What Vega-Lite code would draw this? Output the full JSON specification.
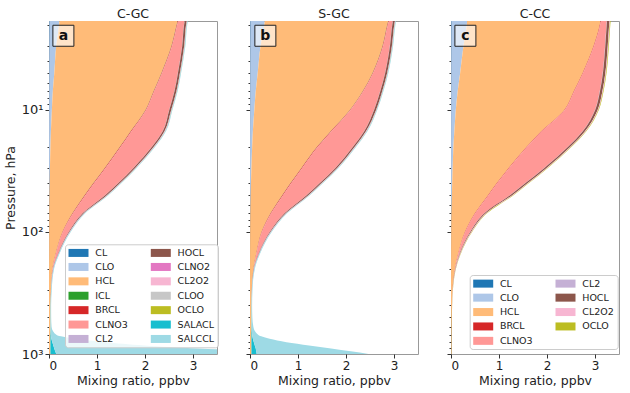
{
"$schema": "https://vega.github.io/schema/vega-lite/v6.json",
"padding": {"left": 3, "top": 7, "right": 5, "bottom": 5},
"config": {
  "font": "DejaVu Sans",
  "view": {"stroke": "#999999", "strokeWidth": 1},
  "axis": {"grid": false, "domain": false, "tickColor": "#333333", "labelColor": "#222222", "titleColor": "#222222", "labelFontSize": 12, "titleFontSize": 12.5, "titleFontWeight": "normal", "labelFont": "DejaVu Sans", "titleFont": "DejaVu Sans"},
  "title": {"fontSize": 12.5, "fontWeight": "normal", "font": "DejaVu Sans", "offset": 1, "color": "#222222"},
  "legend": {"title": null, "columns": 2, "symbolType": "M-2.5,-1H2.5V1H-2.5Z", "symbolSize": 64, "symbolOffset": 5.25, "symbolStrokeWidth": 0, "labelFontSize": 9.5, "labelFont": "DejaVu Sans", "labelColor": "#222222", "labelOffset": 12, "rowPadding": 3.4, "columnPadding": 22.3, "padding": 3.5, "fillColor": "rgba(255,255,255,0.8)", "strokeColor": "#cccccc", "cornerRadius": 3}
},
"datasets": {
  "a": [
    {"p":1.8,"CL":0.01,"CLO":0.21,"HCL":2.47,"ICL":0.003,"BRCL":0.01,"CLNO3":0.13,"CL2":0.003,"HOCL":0.04,"CLNO2":0.003,"CL2O2":0.006,"CLOO":0.001,"OCLO":0.003,"SALACL":0.002,"SALCCL":0.01},
    {"p":2,"CL":0.01,"CLO":0.2,"HCL":2.45,"ICL":0.003,"BRCL":0.01,"CLNO3":0.14,"CL2":0.003,"HOCL":0.04,"CLNO2":0.003,"CL2O2":0.006,"CLOO":0.001,"OCLO":0.003,"SALACL":0.002,"SALCCL":0.01},
    {"p":3,"CL":0.008,"CLO":0.142,"HCL":2.4,"ICL":0.003,"BRCL":0.01,"CLNO3":0.21,"CL2":0.003,"HOCL":0.04,"CLNO2":0.003,"CL2O2":0.006,"CLOO":0.001,"OCLO":0.003,"SALACL":0.002,"SALCCL":0.01},
    {"p":5,"CL":0.006,"CLO":0.104,"HCL":2.23,"ICL":0.003,"BRCL":0.01,"CLNO3":0.33,"CL2":0.003,"HOCL":0.04,"CLNO2":0.003,"CL2O2":0.006,"CLOO":0.001,"OCLO":0.003,"SALACL":0.002,"SALCCL":0.01},
    {"p":7,"CL":0.005,"CLO":0.075,"HCL":2.1,"ICL":0.003,"BRCL":0.01,"CLNO3":0.42,"CL2":0.003,"HOCL":0.04,"CLNO2":0.003,"CL2O2":0.006,"CLOO":0.001,"OCLO":0.003,"SALACL":0.002,"SALCCL":0.01},
    {"p":10,"CL":0.004,"CLO":0.056,"HCL":1.95,"ICL":0.003,"BRCL":0.01,"CLNO3":0.48,"CL2":0.003,"HOCL":0.04,"CLNO2":0.003,"CL2O2":0.006,"CLOO":0.001,"OCLO":0.003,"SALACL":0.002,"SALCCL":0.01},
    {"p":15,"CL":0.003,"CLO":0.037,"HCL":1.66,"ICL":0.003,"BRCL":0.015,"CLNO3":0.65,"CL2":0.003,"HOCL":0.035,"CLNO2":0.003,"CL2O2":0.01,"CLOO":0.001,"OCLO":0.003,"SALACL":0.002,"SALCCL":0.012},
    {"p":20,"CL":0.002,"CLO":0.028,"HCL":1.45,"ICL":0.003,"BRCL":0.015,"CLNO3":0.65,"CL2":0.003,"HOCL":0.035,"CLNO2":0.003,"CL2O2":0.01,"CLOO":0.001,"OCLO":0.003,"SALACL":0.002,"SALCCL":0.012},
    {"p":30,"CL":0.002,"CLO":0.018,"HCL":1.14,"ICL":0.003,"BRCL":0.015,"CLNO3":0.58,"CL2":0.003,"HOCL":0.035,"CLNO2":0.003,"CL2O2":0.01,"CLOO":0.001,"OCLO":0.003,"SALACL":0.002,"SALCCL":0.012},
    {"p":40,"CL":0.001,"CLO":0.014,"HCL":0.905,"ICL":0.003,"BRCL":0.015,"CLNO3":0.5,"CL2":0.003,"HOCL":0.035,"CLNO2":0.003,"CL2O2":0.01,"CLOO":0.001,"OCLO":0.003,"SALACL":0.002,"SALCCL":0.012},
    {"p":50,"CL":0.001,"CLO":0.009,"HCL":0.73,"ICL":0.003,"BRCL":0.015,"CLNO3":0.41,"CL2":0.003,"HOCL":0.035,"CLNO2":0.003,"CL2O2":0.01,"CLOO":0.001,"OCLO":0.003,"SALACL":0.002,"SALCCL":0.012},
    {"p":70,"CL":0.001,"CLO":0.005,"HCL":0.484,"ICL":0.002,"BRCL":0.012,"CLNO3":0.2,"CL2":0.002,"HOCL":0.025,"CLNO2":0.002,"CL2O2":0.01,"CLOO":0.001,"OCLO":0.002,"SALACL":0.002,"SALCCL":0.012},
    {"p":100,"CL":0.001,"CLO":0.003,"HCL":0.276,"ICL":0.001,"BRCL":0.008,"CLNO3":0.12,"CL2":0.002,"HOCL":0.015,"CLNO2":0.002,"CL2O2":0.008,"CLOO":0.001,"OCLO":0.001,"SALACL":0.002,"SALCCL":0.012},
    {"p":150,"CL":0.001,"CLO":0.002,"HCL":0.137,"ICL":0.001,"BRCL":0.005,"CLNO3":0.045,"CL2":0.001,"HOCL":0.008,"CLNO2":0.001,"CL2O2":0.005,"CLOO":0,"OCLO":0.001,"SALACL":0.002,"SALCCL":0.012},
    {"p":200,"CL":0,"CLO":0.001,"HCL":0.069,"ICL":0.001,"BRCL":0.003,"CLNO3":0.01,"CL2":0.001,"HOCL":0.004,"CLNO2":0.001,"CL2O2":0.002,"CLOO":0,"OCLO":0,"SALACL":0.002,"SALCCL":0.012},
    {"p":300,"CL":0,"CLO":0,"HCL":0.04,"ICL":0,"BRCL":0.001,"CLNO3":0.002,"CL2":0,"HOCL":0.001,"CLNO2":0,"CL2O2":0,"CLOO":0,"OCLO":0,"SALACL":0.002,"SALCCL":0.01},
    {"p":400,"CL":0,"CLO":0,"HCL":0.03,"ICL":0,"BRCL":0,"CLNO3":0.001,"CL2":0,"HOCL":0,"CLNO2":0,"CL2O2":0,"CLOO":0,"OCLO":0,"SALACL":0.003,"SALCCL":0.01},
    {"p":500,"CL":0,"CLO":0,"HCL":0.03,"ICL":0,"BRCL":0,"CLNO3":0,"CL2":0,"HOCL":0,"CLNO2":0,"CL2O2":0,"CLOO":0,"OCLO":0,"SALACL":0.003,"SALCCL":0.012},
    {"p":600,"CL":0,"CLO":0,"HCL":0.03,"ICL":0,"BRCL":0,"CLNO3":0,"CL2":0,"HOCL":0,"CLNO2":0,"CL2O2":0,"CLOO":0,"OCLO":0,"SALACL":0.004,"SALCCL":0.02},
    {"p":700,"CL":0,"CLO":0,"HCL":0.03,"ICL":0,"BRCL":0,"CLNO3":0,"CL2":0,"HOCL":0,"CLNO2":0,"CL2O2":0,"CLOO":0,"OCLO":0,"SALACL":0.01,"SALCCL":0.12},
    {"p":750,"CL":0,"CLO":0,"HCL":0.03,"ICL":0,"BRCL":0,"CLNO3":0,"CL2":0,"HOCL":0,"CLNO2":0,"CL2O2":0,"CLOO":0,"OCLO":0,"SALACL":0.02,"SALCCL":0.5},
    {"p":800,"CL":0,"CLO":0,"HCL":0.03,"ICL":0,"BRCL":0,"CLNO3":0,"CL2":0,"HOCL":0,"CLNO2":0,"CL2O2":0,"CLOO":0,"OCLO":0,"SALACL":0.04,"SALCCL":1.1},
    {"p":850,"CL":0,"CLO":0,"HCL":0.03,"ICL":0,"BRCL":0,"CLNO3":0,"CL2":0,"HOCL":0,"CLNO2":0,"CL2O2":0,"CLOO":0,"OCLO":0,"SALACL":0.06,"SALCCL":1.9},
    {"p":900,"CL":0,"CLO":0,"HCL":0.03,"ICL":0,"BRCL":0,"CLNO3":0,"CL2":0,"HOCL":0,"CLNO2":0,"CL2O2":0,"CLOO":0,"OCLO":0,"SALACL":0.08,"SALCCL":3.0},
    {"p":950,"CL":0,"CLO":0,"HCL":0.03,"ICL":0,"BRCL":0,"CLNO3":0,"CL2":0,"HOCL":0,"CLNO2":0,"CL2O2":0,"CLOO":0,"OCLO":0,"SALACL":0.1,"SALCCL":4.2},
    {"p":1000,"CL":0,"CLO":0,"HCL":0.03,"ICL":0,"BRCL":0,"CLNO3":0,"CL2":0,"HOCL":0,"CLNO2":0,"CL2O2":0,"CLOO":0,"OCLO":0,"SALACL":0.12,"SALCCL":5.2}
  ],
  "b": [
    {"p":1.8,"CL":0.01,"CLO":0.3,"HCL":2.58,"ICL":0.003,"BRCL":0.01,"CLNO3":0.08,"CL2":0.003,"HOCL":0.04,"CLNO2":0.003,"CL2O2":0.006,"CLOO":0.001,"OCLO":0.003,"SALACL":0.002,"SALCCL":0.01},
    {"p":2,"CL":0.01,"CLO":0.29,"HCL":2.56,"ICL":0.003,"BRCL":0.01,"CLNO3":0.09,"CL2":0.003,"HOCL":0.04,"CLNO2":0.003,"CL2O2":0.006,"CLOO":0.001,"OCLO":0.003,"SALACL":0.002,"SALCCL":0.01},
    {"p":3,"CL":0.008,"CLO":0.212,"HCL":2.54,"ICL":0.003,"BRCL":0.01,"CLNO3":0.14,"CL2":0.003,"HOCL":0.04,"CLNO2":0.003,"CL2O2":0.006,"CLOO":0.001,"OCLO":0.003,"SALACL":0.002,"SALCCL":0.01},
    {"p":5,"CL":0.006,"CLO":0.154,"HCL":2.39,"ICL":0.003,"BRCL":0.01,"CLNO3":0.25,"CL2":0.003,"HOCL":0.04,"CLNO2":0.003,"CL2O2":0.006,"CLOO":0.001,"OCLO":0.003,"SALACL":0.002,"SALCCL":0.01},
    {"p":7,"CL":0.005,"CLO":0.115,"HCL":2.23,"ICL":0.003,"BRCL":0.01,"CLNO3":0.35,"CL2":0.003,"HOCL":0.04,"CLNO2":0.003,"CL2O2":0.006,"CLOO":0.001,"OCLO":0.003,"SALACL":0.002,"SALCCL":0.01},
    {"p":10,"CL":0.004,"CLO":0.086,"HCL":1.99,"ICL":0.003,"BRCL":0.01,"CLNO3":0.49,"CL2":0.003,"HOCL":0.04,"CLNO2":0.003,"CL2O2":0.006,"CLOO":0.001,"OCLO":0.003,"SALACL":0.002,"SALCCL":0.01},
    {"p":15,"CL":0.003,"CLO":0.057,"HCL":1.62,"ICL":0.003,"BRCL":0.015,"CLNO3":0.68,"CL2":0.003,"HOCL":0.035,"CLNO2":0.003,"CL2O2":0.01,"CLOO":0.001,"OCLO":0.003,"SALACL":0.002,"SALCCL":0.012},
    {"p":20,"CL":0.002,"CLO":0.043,"HCL":1.355,"ICL":0.003,"BRCL":0.015,"CLNO3":0.73,"CL2":0.003,"HOCL":0.035,"CLNO2":0.003,"CL2O2":0.01,"CLOO":0.001,"OCLO":0.003,"SALACL":0.002,"SALCCL":0.012},
    {"p":30,"CL":0.002,"CLO":0.028,"HCL":1.04,"ICL":0.003,"BRCL":0.015,"CLNO3":0.69,"CL2":0.003,"HOCL":0.035,"CLNO2":0.003,"CL2O2":0.01,"CLOO":0.001,"OCLO":0.003,"SALACL":0.002,"SALCCL":0.012},
    {"p":40,"CL":0.001,"CLO":0.019,"HCL":0.82,"ICL":0.003,"BRCL":0.015,"CLNO3":0.59,"CL2":0.003,"HOCL":0.035,"CLNO2":0.003,"CL2O2":0.01,"CLOO":0.001,"OCLO":0.003,"SALACL":0.002,"SALCCL":0.012},
    {"p":50,"CL":0.001,"CLO":0.014,"HCL":0.655,"ICL":0.003,"BRCL":0.015,"CLNO3":0.49,"CL2":0.003,"HOCL":0.035,"CLNO2":0.003,"CL2O2":0.01,"CLOO":0.001,"OCLO":0.003,"SALACL":0.002,"SALCCL":0.012},
    {"p":70,"CL":0.001,"CLO":0.007,"HCL":0.422,"ICL":0.002,"BRCL":0.012,"CLNO3":0.28,"CL2":0.002,"HOCL":0.025,"CLNO2":0.002,"CL2O2":0.01,"CLOO":0.001,"OCLO":0.002,"SALACL":0.002,"SALCCL":0.012},
    {"p":100,"CL":0.001,"CLO":0.003,"HCL":0.236,"ICL":0.001,"BRCL":0.008,"CLNO3":0.16,"CL2":0.002,"HOCL":0.015,"CLNO2":0.002,"CL2O2":0.008,"CLOO":0.001,"OCLO":0.001,"SALACL":0.002,"SALCCL":0.012},
    {"p":150,"CL":0.001,"CLO":0.001,"HCL":0.128,"ICL":0.001,"BRCL":0.005,"CLNO3":0.045,"CL2":0.001,"HOCL":0.008,"CLNO2":0.001,"CL2O2":0.005,"CLOO":0,"OCLO":0.001,"SALACL":0.002,"SALCCL":0.012},
    {"p":200,"CL":0,"CLO":0.001,"HCL":0.069,"ICL":0.001,"BRCL":0.003,"CLNO3":0.005,"CL2":0.001,"HOCL":0.004,"CLNO2":0.001,"CL2O2":0.002,"CLOO":0,"OCLO":0,"SALACL":0.002,"SALCCL":0.012},
    {"p":300,"CL":0,"CLO":0,"HCL":0.035,"ICL":0,"BRCL":0.001,"CLNO3":0.002,"CL2":0,"HOCL":0.001,"CLNO2":0,"CL2O2":0,"CLOO":0,"OCLO":0,"SALACL":0.002,"SALCCL":0.01},
    {"p":400,"CL":0,"CLO":0,"HCL":0.03,"ICL":0,"BRCL":0,"CLNO3":0.001,"CL2":0,"HOCL":0,"CLNO2":0,"CL2O2":0,"CLOO":0,"OCLO":0,"SALACL":0.003,"SALCCL":0.01},
    {"p":500,"CL":0,"CLO":0,"HCL":0.03,"ICL":0,"BRCL":0,"CLNO3":0,"CL2":0,"HOCL":0,"CLNO2":0,"CL2O2":0,"CLOO":0,"OCLO":0,"SALACL":0.004,"SALCCL":0.015},
    {"p":600,"CL":0,"CLO":0,"HCL":0.03,"ICL":0,"BRCL":0,"CLNO3":0,"CL2":0,"HOCL":0,"CLNO2":0,"CL2O2":0,"CLOO":0,"OCLO":0,"SALACL":0.006,"SALCCL":0.035},
    {"p":700,"CL":0,"CLO":0,"HCL":0.03,"ICL":0,"BRCL":0,"CLNO3":0,"CL2":0,"HOCL":0,"CLNO2":0,"CL2O2":0,"CLOO":0,"OCLO":0,"SALACL":0.015,"SALCCL":0.13},
    {"p":750,"CL":0,"CLO":0,"HCL":0.03,"ICL":0,"BRCL":0,"CLNO3":0,"CL2":0,"HOCL":0,"CLNO2":0,"CL2O2":0,"CLOO":0,"OCLO":0,"SALACL":0.03,"SALCCL":0.35},
    {"p":800,"CL":0,"CLO":0,"HCL":0.03,"ICL":0,"BRCL":0,"CLNO3":0,"CL2":0,"HOCL":0,"CLNO2":0,"CL2O2":0,"CLOO":0,"OCLO":0,"SALACL":0.05,"SALCCL":0.68},
    {"p":850,"CL":0,"CLO":0,"HCL":0.03,"ICL":0,"BRCL":0,"CLNO3":0,"CL2":0,"HOCL":0,"CLNO2":0,"CL2O2":0,"CLOO":0,"OCLO":0,"SALACL":0.07,"SALCCL":1.13},
    {"p":900,"CL":0,"CLO":0,"HCL":0.03,"ICL":0,"BRCL":0,"CLNO3":0,"CL2":0,"HOCL":0,"CLNO2":0,"CL2O2":0,"CLOO":0,"OCLO":0,"SALACL":0.09,"SALCCL":1.57},
    {"p":950,"CL":0,"CLO":0,"HCL":0.03,"ICL":0,"BRCL":0,"CLNO3":0,"CL2":0,"HOCL":0,"CLNO2":0,"CL2O2":0,"CLOO":0,"OCLO":0,"SALACL":0.1,"SALCCL":1.97},
    {"p":1000,"CL":0,"CLO":0,"HCL":0.03,"ICL":0,"BRCL":0,"CLNO3":0,"CL2":0,"HOCL":0,"CLNO2":0,"CL2O2":0,"CLOO":0,"OCLO":0,"SALACL":0.11,"SALCCL":2.33}
  ],
  "c": [
    {"p":1.8,"CL":0.01,"CLO":0.33,"HCL":2.78,"BRCL":0.01,"CLNO3":0.12,"CL2":0.005,"HOCL":0.05,"CL2O2":0.012,"OCLO":0.012},
    {"p":2,"CL":0.01,"CLO":0.32,"HCL":2.77,"BRCL":0.01,"CLNO3":0.13,"CL2":0.005,"HOCL":0.05,"CL2O2":0.012,"OCLO":0.012},
    {"p":3,"CL":0.008,"CLO":0.252,"HCL":2.71,"BRCL":0.01,"CLNO3":0.23,"CL2":0.005,"HOCL":0.05,"CL2O2":0.012,"OCLO":0.012},
    {"p":5,"CL":0.006,"CLO":0.184,"HCL":2.55,"BRCL":0.01,"CLNO3":0.41,"CL2":0.005,"HOCL":0.05,"CL2O2":0.012,"OCLO":0.012},
    {"p":7,"CL":0.005,"CLO":0.135,"HCL":2.42,"BRCL":0.01,"CLNO3":0.53,"CL2":0.005,"HOCL":0.05,"CL2O2":0.012,"OCLO":0.012},
    {"p":10,"CL":0.004,"CLO":0.096,"HCL":2.26,"BRCL":0.01,"CLNO3":0.63,"CL2":0.005,"HOCL":0.05,"CL2O2":0.012,"OCLO":0.012},
    {"p":15,"CL":0.003,"CLO":0.067,"HCL":1.81,"BRCL":0.012,"CLNO3":0.85,"CL2":0.005,"HOCL":0.045,"CL2O2":0.015,"OCLO":0.012},
    {"p":20,"CL":0.002,"CLO":0.048,"HCL":1.53,"BRCL":0.012,"CLNO3":0.85,"CL2":0.005,"HOCL":0.045,"CL2O2":0.015,"OCLO":0.012},
    {"p":30,"CL":0.002,"CLO":0.033,"HCL":1.165,"BRCL":0.012,"CLNO3":0.73,"CL2":0.005,"HOCL":0.045,"CL2O2":0.015,"OCLO":0.012},
    {"p":40,"CL":0.001,"CLO":0.024,"HCL":0.925,"BRCL":0.012,"CLNO3":0.58,"CL2":0.005,"HOCL":0.045,"CL2O2":0.015,"OCLO":0.012},
    {"p":50,"CL":0.001,"CLO":0.019,"HCL":0.75,"BRCL":0.012,"CLNO3":0.445,"CL2":0.005,"HOCL":0.045,"CL2O2":0.015,"OCLO":0.012},
    {"p":70,"CL":0.001,"CLO":0.009,"HCL":0.49,"BRCL":0.01,"CLNO3":0.19,"CL2":0.004,"HOCL":0.03,"CL2O2":0.014,"OCLO":0.01},
    {"p":100,"CL":0.001,"CLO":0.004,"HCL":0.285,"BRCL":0.008,"CLNO3":0.1,"CL2":0.003,"HOCL":0.018,"CL2O2":0.012,"OCLO":0.008},
    {"p":150,"CL":0.001,"CLO":0.001,"HCL":0.148,"BRCL":0.005,"CLNO3":0.025,"CL2":0.002,"HOCL":0.01,"CL2O2":0.008,"OCLO":0.006},
    {"p":200,"CL":0,"CLO":0.001,"HCL":0.079,"BRCL":0.003,"CLNO3":0.005,"CL2":0.001,"HOCL":0.005,"CL2O2":0.004,"OCLO":0.004},
    {"p":300,"CL":0,"CLO":0,"HCL":0.03,"BRCL":0.001,"CLNO3":0.001,"CL2":0,"HOCL":0.002,"CL2O2":0.002,"OCLO":0.003},
    {"p":400,"CL":0,"CLO":0,"HCL":0.02,"BRCL":0,"CLNO3":0,"CL2":0,"HOCL":0.001,"CL2O2":0.001,"OCLO":0.002},
    {"p":500,"CL":0,"CLO":0,"HCL":0.015,"BRCL":0,"CLNO3":0,"CL2":0,"HOCL":0,"CL2O2":0,"OCLO":0.002},
    {"p":600,"CL":0,"CLO":0,"HCL":0.012,"BRCL":0,"CLNO3":0,"CL2":0,"HOCL":0,"CL2O2":0,"OCLO":0.002},
    {"p":700,"CL":0,"CLO":0,"HCL":0.01,"BRCL":0,"CLNO3":0,"CL2":0,"HOCL":0,"CL2O2":0,"OCLO":0.002},
    {"p":800,"CL":0,"CLO":0,"HCL":0.01,"BRCL":0,"CLNO3":0,"CL2":0,"HOCL":0,"CL2O2":0,"OCLO":0.002},
    {"p":900,"CL":0,"CLO":0,"HCL":0.01,"BRCL":0,"CLNO3":0,"CL2":0,"HOCL":0,"CL2O2":0,"OCLO":0.002},
    {"p":1000,"CL":0,"CLO":0,"HCL":0.01,"BRCL":0,"CLNO3":0,"CL2":0,"HOCL":0,"CL2O2":0,"OCLO":0.002}
  ],
  "labels": [{"panel":"a"},{"panel":"b"},{"panel":"c"}]
},
"spacing": 33,
"bounds": "flush",
"resolve": {"scale": {"color": "independent"}, "legend": {"color": "independent"}},
"hconcat": [
  {
    "width": 168, "height": 333,
    "title": "C-GC",
    "layer": [
      {
        "data": {"name": "a"},
        "transform": [
          {"fold": ["CL","CLO","HCL","ICL","BRCL","CLNO3","CL2","HOCL","CLNO2","CL2O2","CLOO","OCLO","SALACL","SALCCL"], "as": ["species","value"]},
          {"calculate": "indexof(['CL','CLO','HCL','ICL','BRCL','CLNO3','CL2','HOCL','CLNO2','CL2O2','CLOO','OCLO','SALACL','SALCCL'], datum.species)", "as": "ord"}
        ],
        "mark": {"type": "area", "orient": "horizontal", "interpolate": "monotone", "clip": true},
        "encoding": {
          "y": {"field": "p", "type": "quantitative", "scale": {"type": "log", "domain": [1.87, 1000], "reverse": true, "nice": false},
                "axis": {"title": "Pressure, hPa", "titlePadding": 4, "labelFontSize": {"condition": {"test": "datum.value == 10 || datum.value == 100 || datum.value == 1000", "value": 13}, "value": 1}, "values": [2,3,4,5,6,7,8,9,10,20,30,40,50,60,70,80,90,100,200,300,400,500,600,700,800,900,1000], "labelExpr": "datum.value == 10 ? '10¹' : datum.value == 100 ? '10²' : datum.value == 1000 ? '10³' : ''", "labelOverlap": false, "tickSize": {"condition": {"test": "datum.value == 10 || datum.value == 100 || datum.value == 1000", "value": 4}, "value": 2}, "labelPadding": 2}},
          "x": {"field": "value", "type": "quantitative", "stack": "zero", "scale": {"domain": [0, 3.5], "nice": false, "zero": true},
                "axis": {"title": "Mixing ratio, ppbv", "values": [0,1,2,3], "format": "d", "tickSize": 4, "labelPadding": 2, "titlePadding": 3}},
          "color": {"field": "species", "type": "nominal",
                    "scale": {"domain": ["CL","CLO","HCL","ICL","BRCL","CLNO3","CL2","HOCL","CLNO2","CL2O2","CLOO","OCLO","SALACL","SALCCL"],
                              "range": ["#1f77b4","#aec7e8","#ffbb78","#2ca02c","#d62728","#ff9896","#c5b0d5","#8c564b","#e377c2","#f7b6d2","#c7c7c7","#bcbd22","#17becf","#9edae5"]},
                    "legend": {"orient": "none", "legendX": 16, "legendY": 223.3}},
          "order": {"field": "ord", "type": "quantitative"}
        }
      },
      {
        "data": {"name": "labels"},
        "transform": [{"filter": "datum.panel == 'a'"}],
        "mark": {"type": "point", "shape": "square", "size": 441, "filled": true, "fill": "white", "fillOpacity": 0.6, "stroke": "#222222", "strokeWidth": 1, "strokeOpacity": 1},
        "encoding": {"x": {"datum": 0.3, "type": "quantitative", "scale": {"domain": [0, 3.5], "nice": false, "zero": true}}, "y": {"datum": 2.47, "type": "quantitative", "scale": {"type": "log", "domain": [1.87, 1000], "reverse": true, "nice": false}}}
      },
      {
        "data": {"name": "labels"},
        "transform": [{"filter": "datum.panel == 'a'"}],
        "mark": {"type": "text", "fontWeight": "bold", "fontSize": 14, "color": "#111111", "baseline": "middle"},
        "encoding": {"x": {"datum": 0.3, "type": "quantitative", "scale": {"domain": [0, 3.5], "nice": false, "zero": true}}, "y": {"datum": 2.47, "type": "quantitative", "scale": {"type": "log", "domain": [1.87, 1000], "reverse": true, "nice": false}}, "text": {"field": "panel"}}
      }
    ]
  },
  {
    "width": 168, "height": 333,
    "title": "S-GC",
    "layer": [
      {
        "data": {"name": "b"},
        "transform": [
          {"fold": ["CL","CLO","HCL","ICL","BRCL","CLNO3","CL2","HOCL","CLNO2","CL2O2","CLOO","OCLO","SALACL","SALCCL"], "as": ["species","value"]},
          {"calculate": "indexof(['CL','CLO','HCL','ICL','BRCL','CLNO3','CL2','HOCL','CLNO2','CL2O2','CLOO','OCLO','SALACL','SALCCL'], datum.species)", "as": "ord"}
        ],
        "mark": {"type": "area", "orient": "horizontal", "interpolate": "monotone", "clip": true},
        "encoding": {
          "y": {"field": "p", "type": "quantitative", "scale": {"type": "log", "domain": [1.87, 1000], "reverse": true, "nice": false},
                "axis": {"title": null, "labels": false, "values": [2,3,4,5,6,7,8,9,10,20,30,40,50,60,70,80,90,100,200,300,400,500,600,700,800,900,1000], "tickSize": {"condition": {"test": "datum.value == 10 || datum.value == 100 || datum.value == 1000", "value": 4}, "value": 2}}},
          "x": {"field": "value", "type": "quantitative", "stack": "zero", "scale": {"domain": [0, 3.5], "nice": false, "zero": true},
                "axis": {"title": "Mixing ratio, ppbv", "values": [0,1,2,3], "format": "d", "tickSize": 4, "labelPadding": 2, "titlePadding": 3}},
          "color": {"field": "species", "type": "nominal",
                    "scale": {"domain": ["CL","CLO","HCL","ICL","BRCL","CLNO3","CL2","HOCL","CLNO2","CL2O2","CLOO","OCLO","SALACL","SALCCL"],
                              "range": ["#1f77b4","#aec7e8","#ffbb78","#2ca02c","#d62728","#ff9896","#c5b0d5","#8c564b","#e377c2","#f7b6d2","#c7c7c7","#bcbd22","#17becf","#9edae5"]},
                    "legend": null},
          "order": {"field": "ord", "type": "quantitative"}
        }
      },
      {
        "data": {"name": "labels"},
        "transform": [{"filter": "datum.panel == 'b'"}],
        "mark": {"type": "point", "shape": "square", "size": 441, "filled": true, "fill": "white", "fillOpacity": 0.6, "stroke": "#222222", "strokeWidth": 1, "strokeOpacity": 1},
        "encoding": {"x": {"datum": 0.32, "type": "quantitative", "scale": {"domain": [0, 3.5], "nice": false, "zero": true}}, "y": {"datum": 2.47, "type": "quantitative", "scale": {"type": "log", "domain": [1.87, 1000], "reverse": true, "nice": false}}}
      },
      {
        "data": {"name": "labels"},
        "transform": [{"filter": "datum.panel == 'b'"}],
        "mark": {"type": "text", "fontWeight": "bold", "fontSize": 14, "color": "#111111", "baseline": "middle"},
        "encoding": {"x": {"datum": 0.32, "type": "quantitative", "scale": {"domain": [0, 3.5], "nice": false, "zero": true}}, "y": {"datum": 2.47, "type": "quantitative", "scale": {"type": "log", "domain": [1.87, 1000], "reverse": true, "nice": false}}, "text": {"field": "panel"}}
      }
    ]
  },
  {
    "width": 168, "height": 333,
    "title": "C-CC",
    "layer": [
      {
        "data": {"name": "c"},
        "transform": [
          {"fold": ["CL","CLO","HCL","BRCL","CLNO3","CL2","HOCL","CL2O2","OCLO"], "as": ["species","value"]},
          {"calculate": "indexof(['CL','CLO','HCL','BRCL','CLNO3','CL2','HOCL','CL2O2','OCLO'], datum.species)", "as": "ord"}
        ],
        "mark": {"type": "area", "orient": "horizontal", "interpolate": "monotone", "clip": true},
        "encoding": {
          "y": {"field": "p", "type": "quantitative", "scale": {"type": "log", "domain": [1.87, 1000], "reverse": true, "nice": false},
                "axis": {"title": null, "labels": false, "values": [2,3,4,5,6,7,8,9,10,20,30,40,50,60,70,80,90,100,200,300,400,500,600,700,800,900,1000], "tickSize": {"condition": {"test": "datum.value == 10 || datum.value == 100 || datum.value == 1000", "value": 4}, "value": 2}}},
          "x": {"field": "value", "type": "quantitative", "stack": "zero", "scale": {"domain": [0, 3.5], "nice": false, "zero": true},
                "axis": {"title": "Mixing ratio, ppbv", "values": [0,1,2,3], "format": "d", "tickSize": 4, "labelPadding": 2, "titlePadding": 3}},
          "color": {"field": "species", "type": "nominal",
                    "scale": {"domain": ["CL","CLO","HCL","BRCL","CLNO3","CL2","HOCL","CL2O2","OCLO"],
                              "range": ["#1f77b4","#aec7e8","#ffbb78","#d62728","#ff9896","#c5b0d5","#8c564b","#f7b6d2","#bcbd22"]},
                    "legend": {"orient": "none", "legendX": 18.7, "legendY": 254}},
          "order": {"field": "ord", "type": "quantitative"}
        }
      },
      {
        "data": {"name": "labels"},
        "transform": [{"filter": "datum.panel == 'c'"}],
        "mark": {"type": "point", "shape": "square", "size": 441, "filled": true, "fill": "white", "fillOpacity": 0.6, "stroke": "#222222", "strokeWidth": 1, "strokeOpacity": 1},
        "encoding": {"x": {"datum": 0.3, "type": "quantitative", "scale": {"domain": [0, 3.5], "nice": false, "zero": true}}, "y": {"datum": 2.47, "type": "quantitative", "scale": {"type": "log", "domain": [1.87, 1000], "reverse": true, "nice": false}}}
      },
      {
        "data": {"name": "labels"},
        "transform": [{"filter": "datum.panel == 'c'"}],
        "mark": {"type": "text", "fontWeight": "bold", "fontSize": 14, "color": "#111111", "baseline": "middle"},
        "encoding": {"x": {"datum": 0.3, "type": "quantitative", "scale": {"domain": [0, 3.5], "nice": false, "zero": true}}, "y": {"datum": 2.47, "type": "quantitative", "scale": {"type": "log", "domain": [1.87, 1000], "reverse": true, "nice": false}}, "text": {"field": "panel"}}
      }
    ]
  }
]
}
